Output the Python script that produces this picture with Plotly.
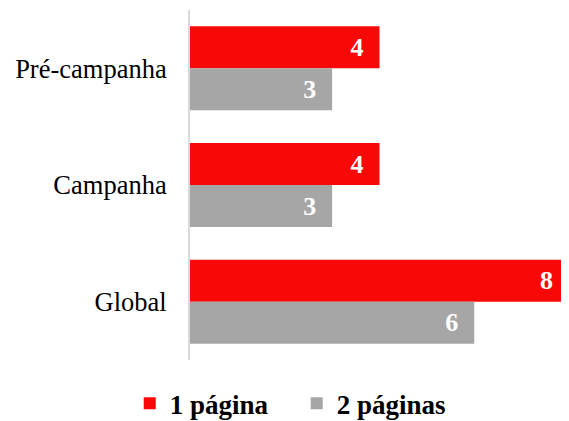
import plotly.graph_objects as go

categories = ["Pré-campanha", "Campanha", "Global"]
uma_pagina = [4, 4, 8]
duas_paginas = [3, 3, 6]
series_names = ["1 página", "2 páginas"]

RED = "#F90808"
GRAY = "#A6A6A6"
FONT = "Liberation Serif, Times New Roman, serif"
PAD = "\u00a0\u00a0"

fig = go.Figure()
for vals, name, color in [(uma_pagina, series_names[0], RED), (duas_paginas, series_names[1], GRAY)]:
    fig.add_trace(go.Bar(
        y=categories, x=vals, name=name, orientation="h",
        marker=dict(color=color, line=dict(width=0)),
        text=[f"{v}{PAD}" for v in vals], textposition="inside", insidetextanchor="end",
        textfont=dict(family=FONT, size=26, color="white", weight="bold"),
        cliponaxis=False,
    ))

fig.update_layout(
    width=561, height=413,
    margin=dict(l=182, r=0, t=2, b=61),
    paper_bgcolor="white", plot_bgcolor="white",
    barmode="group", bargap=0.28, bargroupgap=0,
    font=dict(family=FONT, size=26, color="black"),
    xaxis=dict(range=[0, 8], visible=False, fixedrange=True),
    yaxis=dict(autorange="reversed", showline=True, linecolor="#D9D9D9", linewidth=2,
               ticks="", ticklabelstandoff=16,
               tickfont=dict(family=FONT, size=26.5, color="black")),
    legend=dict(orientation="h", xref="container", x=0.217, xanchor="left",
                yref="container", y=0.042, yanchor="middle",
                font=dict(family=FONT, size=27, color="black", weight="bold"),
                itemwidth=30, entrywidth=122, entrywidthmode="pixels"),
    uniformtext=dict(mode="show", minsize=10),
)
fig.write_html("out.html")
